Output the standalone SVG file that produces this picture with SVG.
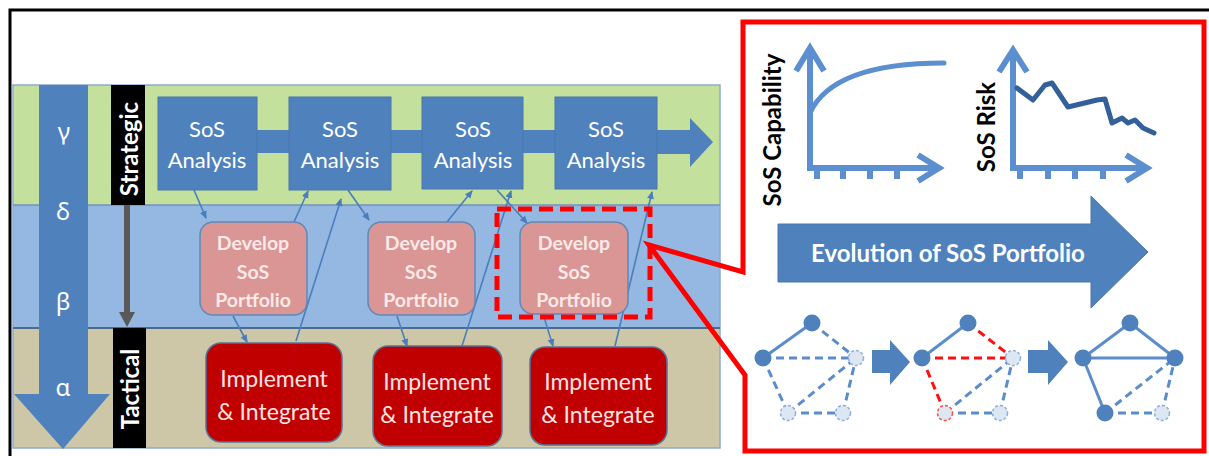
<svg xmlns="http://www.w3.org/2000/svg" width="1209" height="456" viewBox="0 0 1209 456">
<defs>
<style>
.lbl{font-family:Lato,"Liberation Sans",sans-serif;text-anchor:middle}
.sos{fill:#4f81bd;stroke:#4a77ad;stroke-width:1}
.sost{fill:#ffffff;font-size:22px}
.dev{fill:#d99694;stroke:#5f88bb;stroke-width:1.5}
.devt{fill:#fbe9e8;font-size:19.5px;font-weight:bold}
.imp{fill:#c00000;stroke:#56739a;stroke-width:1.5}
.impt{fill:#fde4e4;font-size:23px}
.greek{fill:#ffffff;font-size:24px;font-family:"Noto Sans","DejaVu Sans",sans-serif;text-anchor:middle}
.bar{fill:#000000}
.bart{fill:#ffffff;font-size:24px;font-weight:bold}
.thin{stroke:#4a7ebb;stroke-width:1.6;fill:none;marker-end:url(#ah)}
.axis{stroke:#5b8fd0;stroke-width:6;fill:none;stroke-linecap:butt}
.chev{stroke:#5b8fd0;stroke-width:6;fill:none;stroke-linejoin:miter}
.e{stroke:#5b8ccc;stroke-width:3;fill:none}
.ed{stroke:#5b8ccc;stroke-width:3;fill:none;stroke-dasharray:8 5}
.er{stroke:#ff1010;stroke-width:3;fill:none;stroke-dasharray:8 5}
.nf{fill:#4f81bd}
.nl{fill:#dde7f3;stroke:#8fb0da;stroke-width:1.5;stroke-dasharray:3 2}
.nr{fill:#dde7f3;stroke:#ff5050;stroke-width:1.5;stroke-dasharray:3 2}
.blk{fill:#4f81bd}
.axt{font-size:24px;font-weight:bold;fill:#000000}
</style>
<marker id="ah" markerWidth="8" markerHeight="8" refX="7" refY="4" orient="auto" markerUnits="userSpaceOnUse"><path d="M0,0.5 L8,4 L0,7.5 z" fill="#4a7ebb"/></marker>
</defs>
<rect x="0" y="0" width="1209" height="456" fill="#ffffff"/>
<path d="M10,456 L10,10 L1209,10" fill="none" stroke="#000000" stroke-width="3"/>

<g id="bands">
<rect x="13" y="85" width="707" height="120" fill="#c3e09d"/>
<rect x="13" y="205" width="707" height="123" fill="#95b8e2"/>
<rect x="13" y="328" width="707" height="120" fill="#cdc7a7"/>
<rect x="13" y="85" width="707" height="363" fill="none" stroke="#8eaad0" stroke-width="1.5"/>
<line x1="13" y1="205" x2="720" y2="205" stroke="#6f93c0" stroke-width="1.5"/>
<line x1="13" y1="328" x2="720" y2="328" stroke="#4d6b8f" stroke-width="2"/>
</g>

<g id="level-arrow">
<polygon points="39,85 88,85 88,394 110,394 63,449 14,394 39,394" fill="#4f81bd"/>
<text class="greek" x="64" y="140">γ</text>
<text class="greek" x="63" y="220">δ</text>
<text class="greek" x="63" y="310">β</text>
<text class="greek" x="63" y="396">α</text>
</g>

<g id="strategic-label">
<rect class="bar" x="111" y="85" width="34" height="120"/>
<text class="lbl bart" transform="translate(138,149) rotate(-90)">Strategic</text>
</g>
<g id="tactical-label">
<rect class="bar" x="113" y="328" width="33" height="120"/>
<text class="lbl bart" transform="translate(139,389) rotate(-90)">Tactical</text>
</g>

<g id="connectors">
<line x1="127" y1="205" x2="127" y2="314" stroke="#595959" stroke-width="6"/>
<polygon points="119,312 135,312 127,327" fill="#595959"/>
<rect x="256" y="130" width="34" height="23" fill="#4f81bd"/>
<rect x="390" y="130" width="33" height="23" fill="#4f81bd"/>
<rect x="522" y="130" width="34" height="23" fill="#4f81bd"/>
<polygon points="656,130 690,130 690,118 713,142 690,167 690,154 656,154" fill="#4f81bd"/>
<line class="thin" x1="194" y1="190" x2="206" y2="218"/>
<line class="thin" x1="294" y1="222" x2="308" y2="191"/>
<line class="thin" x1="296" y1="341" x2="341" y2="199"/>
<line class="thin" x1="348" y1="190" x2="369" y2="220"/>
<line class="thin" x1="233" y1="316" x2="247" y2="342"/>
<line class="thin" x1="397" y1="316" x2="407" y2="346"/>
<line class="thin" x1="447" y1="222" x2="472" y2="191"/>
<line class="thin" x1="462" y1="346" x2="511" y2="191"/>
<line class="thin" x1="497" y1="190" x2="527" y2="223"/>
<line class="thin" x1="543" y1="314" x2="553" y2="346"/>
<line class="thin" x1="615" y1="346" x2="652" y2="192"/>
</g>

<g id="sos1"><rect class="sos" x="158" y="97" width="99" height="93"/>
<text class="lbl sost" x="207" y="137">SoS</text><text class="lbl sost" x="207" y="168">Analysis</text></g>
<g id="sos2"><rect class="sos" x="289" y="97" width="102" height="93"/>
<text class="lbl sost" x="340" y="137">SoS</text><text class="lbl sost" x="340" y="168">Analysis</text></g>
<g id="sos3"><rect class="sos" x="422" y="97" width="101" height="92"/>
<text class="lbl sost" x="473" y="137">SoS</text><text class="lbl sost" x="473" y="168">Analysis</text></g>
<g id="sos4"><rect class="sos" x="555" y="97" width="102" height="92"/>
<text class="lbl sost" x="606" y="137">SoS</text><text class="lbl sost" x="606" y="168">Analysis</text></g>

<g id="dev1"><rect class="dev" x="200" y="222" width="107" height="93" rx="13"/>
<text class="lbl devt" x="253" y="250">Develop</text><text class="lbl devt" x="253" y="279">SoS</text><text class="lbl devt" x="253" y="307">Portfolio</text></g>
<g id="dev2"><rect class="dev" x="368" y="222" width="107" height="93" rx="13"/>
<text class="lbl devt" x="421" y="250">Develop</text><text class="lbl devt" x="421" y="279">SoS</text><text class="lbl devt" x="421" y="307">Portfolio</text></g>
<g id="dev3"><rect class="dev" x="520" y="222" width="108" height="92" rx="13"/>
<text class="lbl devt" x="574" y="250">Develop</text><text class="lbl devt" x="574" y="279">SoS</text><text class="lbl devt" x="574" y="307">Portfolio</text></g>

<g id="imp1"><rect class="imp" x="206" y="343" width="136" height="99" rx="15"/>
<text class="lbl impt" x="274" y="387">Implement</text><text class="lbl impt" x="274" y="420">&amp; Integrate</text></g>
<g id="imp2"><rect class="imp" x="373" y="346" width="129" height="100" rx="15"/>
<text class="lbl impt" x="437" y="390">Implement</text><text class="lbl impt" x="437" y="423">&amp; Integrate</text></g>
<g id="imp3"><rect class="imp" x="530" y="347" width="137" height="98" rx="15"/>
<text class="lbl impt" x="598" y="390">Implement</text><text class="lbl impt" x="598" y="423">&amp; Integrate</text></g>

<g id="highlight">
<rect x="497" y="209" width="153" height="108" fill="none" stroke="#ff0000" stroke-width="5" stroke-dasharray="14 7"/>
</g>

<g id="callout">
<path d="M743,272 L743,22 L1204,22 L1204,451 L745,451 L745,375 L649,245 Z" fill="none" stroke="#ff0000" stroke-width="5" stroke-linejoin="miter" stroke-miterlimit="6"/>
</g>

<g id="capability-chart">
<line class="axis" x1="810" y1="50" x2="810" y2="171"/>
<line class="axis" x1="807" y1="168" x2="938" y2="168"/>
<polyline class="chev" points="796,71 810,48 824,71"/>
<polyline class="chev" points="918,155 939,168 918,181"/>
<g stroke="#5b8fd0" stroke-width="6"><line x1="817" y1="168" x2="817" y2="179"/><line x1="843" y1="168" x2="843" y2="179"/><line x1="870" y1="168" x2="870" y2="179"/><line x1="897" y1="168" x2="897" y2="179"/></g>
<path d="M810,113 C825,80 870,63 944,63" fill="none" stroke="#5b8fd0" stroke-width="5" stroke-linecap="round"/>
<text class="lbl axt" transform="translate(781,130) rotate(-90)">SoS Capability</text>
</g>

<g id="risk-chart">
<line class="axis" x1="1013" y1="52" x2="1013" y2="171"/>
<line class="axis" x1="1010" y1="168" x2="1145" y2="168"/>
<polyline class="chev" points="999,72 1013,50 1027,72"/>
<polyline class="chev" points="1126,155 1147,168 1126,181"/>
<g stroke="#5b8fd0" stroke-width="6"><line x1="1020" y1="168" x2="1020" y2="179"/><line x1="1048" y1="168" x2="1048" y2="179"/><line x1="1075" y1="168" x2="1075" y2="179"/><line x1="1103" y1="168" x2="1103" y2="179"/></g>
<polyline points="1017,88 1033,100 1045,85 1052,83 1068,107 1097,100 1105,99 1112,123 1122,118 1128,123 1135,120 1143,128 1154,133" fill="none" stroke="#34609a" stroke-width="5" stroke-linejoin="round" stroke-linecap="round"/>
<text class="lbl axt" transform="translate(995,127) rotate(-90)">SoS Risk</text>
</g>

<g id="evolution-arrow">
<polygon points="778,224 1091,224 1091,196 1148,252 1091,308 1091,282 778,282" fill="#4f81bd" stroke="#4a77ad" stroke-width="1"/>
<text class="lbl" x="948" y="262" font-size="24" font-weight="bold" fill="#ffffff">Evolution of SoS Portfolio</text>
</g>

<g id="network1">
<line class="e" x1="763" y1="358" x2="812" y2="323"/>
<line class="ed" x1="812" y1="323" x2="856" y2="358"/>
<line class="ed" x1="763" y1="358" x2="856" y2="358"/>
<line class="ed" x1="763" y1="358" x2="788" y2="413"/>
<line class="ed" x1="788" y1="413" x2="856" y2="358"/>
<line class="ed" x1="788" y1="413" x2="843" y2="413"/>
<line class="ed" x1="843" y1="413" x2="856" y2="358"/>
<circle class="nf" cx="812" cy="323" r="8.5"/>
<circle class="nf" cx="763" cy="358" r="8.5"/>
<circle class="nl" cx="856" cy="358" r="7.5"/>
<circle class="nl" cx="788" cy="413" r="7.5"/>
<circle class="nl" cx="843" cy="413" r="7.5"/>
</g>
<g id="step-arrow1"><polygon class="blk" points="872,350 890,350 890,340 910,362 890,385 890,373 872,373"/></g>
<g id="network2">
<line class="e" x1="922" y1="358" x2="968" y2="323"/>
<line class="er" x1="968" y1="323" x2="1013" y2="358"/>
<line class="er" x1="922" y1="358" x2="1013" y2="358"/>
<line class="er" x1="922" y1="358" x2="945" y2="413"/>
<line class="ed" x1="945" y1="413" x2="1013" y2="358"/>
<line class="ed" x1="945" y1="413" x2="1000" y2="413"/>
<line class="ed" x1="1000" y1="413" x2="1013" y2="358"/>
<circle class="nf" cx="968" cy="323" r="8.5"/>
<circle class="nf" cx="922" cy="358" r="8.5"/>
<circle class="nl" cx="1013" cy="358" r="7.5"/>
<circle class="nr" cx="945" cy="413" r="7.5"/>
<circle class="nl" cx="1000" cy="413" r="7.5"/>
</g>
<g id="step-arrow2"><polygon class="blk" points="1028,350 1048,350 1048,340 1068,362 1048,385 1048,373 1028,373"/></g>
<g id="network3">
<line class="e" x1="1083" y1="358" x2="1130" y2="323"/>
<line class="e" x1="1130" y1="323" x2="1175" y2="358"/>
<line class="e" x1="1083" y1="358" x2="1175" y2="358" stroke-width="2"/>
<line class="e" x1="1083" y1="358" x2="1105" y2="413"/>
<line class="ed" x1="1105" y1="413" x2="1175" y2="358"/>
<line class="ed" x1="1105" y1="413" x2="1162" y2="413"/>
<line class="ed" x1="1162" y1="413" x2="1175" y2="358"/>
<circle class="nf" cx="1130" cy="323" r="8.5"/>
<circle class="nf" cx="1083" cy="358" r="8.5"/>
<circle class="nf" cx="1175" cy="358" r="8.5"/>
<circle class="nf" cx="1105" cy="413" r="8.5"/>
<circle class="nl" cx="1162" cy="413" r="7.5"/>
</g>
</svg>
